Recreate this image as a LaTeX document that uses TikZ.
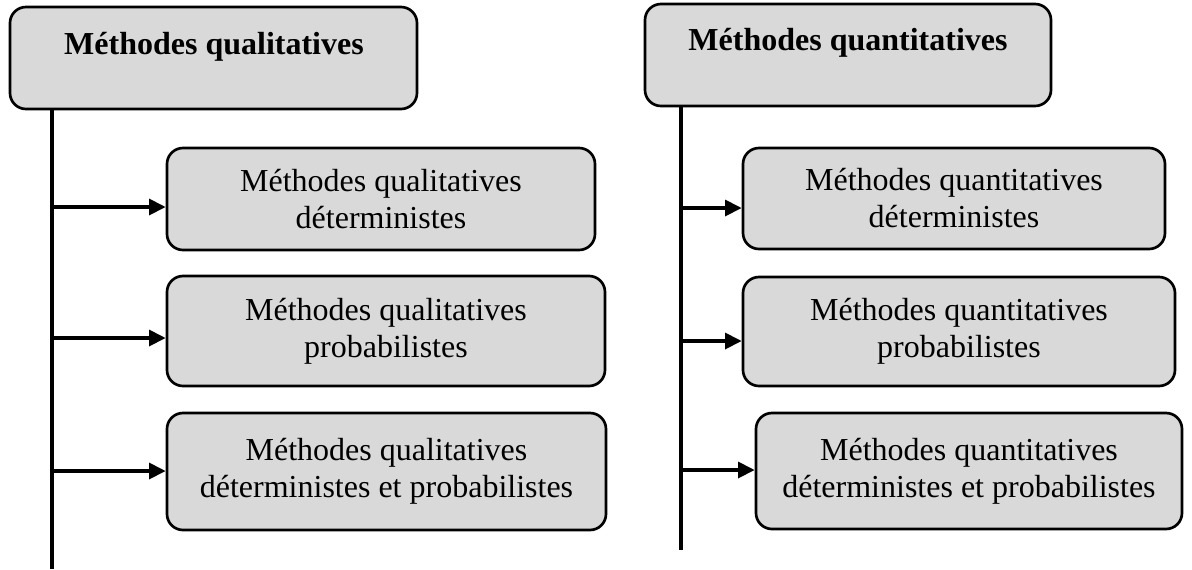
\documentclass[tikz,border=0pt]{standalone}
\usepackage{fontspec}
\setmainfont{Liberation Serif}
\usetikzlibrary{arrows.meta}
\definecolor{boxgrey}{HTML}{D9D9D9}
\tikzset{
  catbox/.style={draw=black, line width=2pt, fill=boxgrey, rounded corners=12pt, inner sep=0pt},
  subbox/.style={catbox, align=center, font=\fontsize{24}{27.75}\selectfont},
  cattitle/.style={anchor=base, inner sep=0pt, font=\fontsize{24}{27.75}\selectfont\bfseries},
  trunk/.style={line width=2.6pt},
  branch/.style={line width=2.5pt, -{Triangle[length=12.5pt,width=12pt]}}
}
\begin{document}
\begin{tikzpicture}[x=0.75pt,y=-0.75pt]
\useasboundingbox (0,0) rectangle (1192,569);

% --- qualitative methods ---
\node[catbox, minimum width={407*0.75pt}, minimum height={102*0.75pt}] (qlt) at (213.5,58) {};
\node[cattitle] (qlttitle) at (214,54) {Méthodes qualitatives};
\node[subbox, minimum width={428*0.75pt}, minimum height={102*0.75pt}] (qlt1) at (381,199)
  {Méthodes qualitatives\\déterministes};
\node[subbox, minimum width={438*0.75pt}, minimum height={110*0.75pt}] (qlt2) at (386,331)
  {Méthodes qualitatives\\probabilistes};
\node[subbox, minimum width={439*0.75pt}, minimum height={117*0.75pt}] (qlt3) at (386.5,471.5)
  {Méthodes qualitatives\\déterministes et probabilistes};

\coordinate (qtop) at (52,109);
\coordinate (qend) at (52,569);
\coordinate (qa1) at (52,207);
\coordinate (qa2) at (52,338);
\coordinate (qa3) at (52,471);
\draw[trunk] (qtop) -- (qend);
\draw[branch] (qa1) -- (qa1 -| qlt1.west);
\draw[branch] (qa2) -- (qa2 -| qlt2.west);
\draw[branch] (qa3) -- (qa3 -| qlt3.west);

% --- quantitative methods ---
\node[catbox, minimum width={406*0.75pt}, minimum height={102*0.75pt}] (qnt) at (848,55) {};
\node[cattitle] (qnttitle) at (848,50) {Méthodes quantitatives};
\node[subbox, minimum width={422*0.75pt}, minimum height={101*0.75pt}] (qnt1) at (954,198.5)
  {Méthodes quantitatives\\déterministes};
\node[subbox, minimum width={432*0.75pt}, minimum height={109*0.75pt}] (qnt2) at (959,331.5)
  {Méthodes quantitatives\\probabilistes};
\node[subbox, minimum width={426*0.75pt}, minimum height={116*0.75pt}] (qnt3) at (969,471)
  {Méthodes quantitatives\\déterministes et probabilistes};

\coordinate (ntop) at (681,106);
\coordinate (nend) at (681,550);
\coordinate (na1) at (681,208);
\coordinate (na2) at (681,341);
\coordinate (na3) at (681,470);
\draw[trunk] (ntop) -- (nend);
\draw[branch] (na1) -- (na1 -| qnt1.west);
\draw[branch] (na2) -- (na2 -| qnt2.west);
\draw[branch] (na3) -- (na3 -| qnt3.west);
\end{tikzpicture}
\end{document}
